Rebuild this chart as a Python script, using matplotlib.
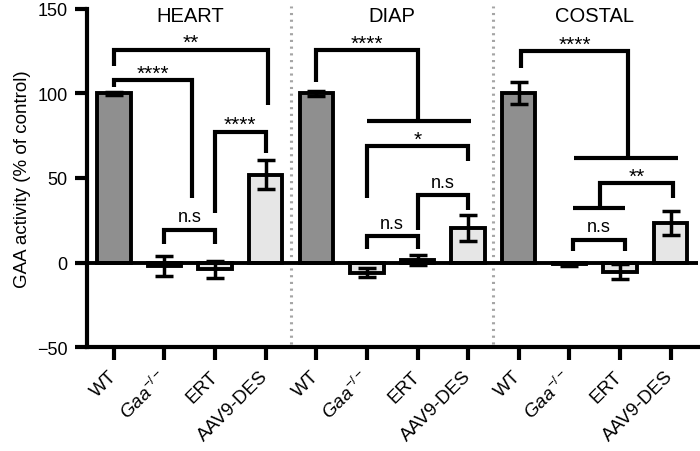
import numpy as np
import matplotlib
matplotlib.use('Agg')
import matplotlib.pyplot as plt

plt.rcParams['font.family'] = ['Liberation Sans', 'DejaVu Sans']
plt.rcParams['mathtext.fontset'] = 'custom'
plt.rcParams['mathtext.rm'] = 'Liberation Sans'
plt.rcParams['mathtext.it'] = 'Liberation Sans:italic'

# data
groups = ['HEART', 'DIAP', 'COSTAL']
conditions = ['WT', r'$\mathit{Gaa}^{-/-}$', 'ERT', 'AAV9-DES']
heart_mean = [100, -2, -4, 52]
heart_err = [1, 6, 5, 8.6]
diap_mean = [100, -6, 1.5, 20.5]
diap_err = [1.5, 2.8, 3, 7.5]
costal_mean = [100, -1, -5.5, 23.5]
costal_err = [6.5, 1, 4.5, 7]

# significance brackets: (x left, x right, y, left leg end, right leg end, label)
brackets = [
    (0, 3.05, 126, 116, 93, '**'),
    (0, 1.55, 108, 104, 38, '****'),
    (2, 3, 77.5, 29, 64.5, '****'),
    (1, 2, 19.5, 11, 11, 'n.s'),
    (4, 6, 125.5, 107, 83.5, '****'),
    (5, 7, 69, 38, 60, '*'),
    (5, 6, 15.4, 8, 8, 'n.s'),
    (6, 7, 40, 19, 31, 'n.s'),
    (8.05, 10.15, 125, 115, 62, '****'),
    (9.6, 11.05, 47, 32, 38, '**'),
    (9.07, 10.1, 13.6, 7, 7, 'n.s'),
]
# plain horizontal joins: (x left, x right, y)
joins = [(5, 7.05, 83.5), (9.1, 11.15, 62), (9.07, 10.1, 32)]

means = heart_mean + diap_mean + costal_mean
errs = heart_err + diap_err + costal_err
labels = conditions * 3
x = np.arange(len(means))
colors = ['#8f8f8f' if i % 4 == 0 else '#e6e6e6' for i in range(len(means))]

fig = plt.figure(figsize=(7, 4.52), dpi=100)
ax = fig.add_axes([0.1243, 0.230, 0.8727, 0.748])

ax.bar(x, means, width=0.66, color=colors, edgecolor='black', linewidth=2.8, zorder=2)
ax.errorbar(x, means, yerr=errs, fmt='none', ecolor='black', elinewidth=2.5,
            capsize=6.5, capthick=2.5, zorder=3)
ax.axhline(0, color='black', lw=2.8, zorder=4)

for xs in [3.5, 7.5]:
    ax.axvline(xs, ymin=0.01, ymax=1.01, color='#a5a5a5', lw=2.2,
               linestyle=(0, (0.7, 1.5)), clip_on=False, zorder=1)

for x1, x2, yb, yl, yr, lab in brackets:
    ax.plot([x1, x1, x2, x2], [yl, yb, yb, yr], color='black', lw=3,
            solid_capstyle='butt', solid_joinstyle='miter', zorder=5)
    if lab == 'n.s':
        ax.text((x1 + x2) / 2, yb + 2.5, lab, ha='center', va='bottom', fontsize=13)
    else:
        ax.text((x1 + x2) / 2, yb - 1.5, lab, ha='center', va='bottom', fontsize=15)
for x1, x2, yb in joins:
    ax.plot([x1, x2], [yb, yb], color='black', lw=3, solid_capstyle='butt', zorder=5)

for i, g in enumerate(groups):
    ax.text(4 * i + 1.5, 151.5, g, ha='center', va='top', fontsize=14.5)

ax.set_xlim(-0.53, 11.54)
ax.set_ylim(-50, 150)
ax.set_yticks([-50, 0, 50, 100, 150])
ax.set_yticklabels(['\u221250', '0', '50', '100', '150'])
ax.set_xticks(x)
ax.set_xticklabels(labels, rotation=45, ha='right', va='center', rotation_mode='anchor')
ax.tick_params(axis='both', width=3, length=9, labelsize=13, direction='out')
ax.tick_params(axis='x', labelsize=13.5, pad=10)
ax.tick_params(axis='y', pad=5)
for s in ['top', 'right']:
    ax.spines[s].set_visible(False)
for s in ['left', 'bottom']:
    ax.spines[s].set_linewidth(3)
ax.set_ylabel('GAA activity (% of control)', fontsize=13.5, labelpad=4)

fig.savefig('out.png', dpi=100)
